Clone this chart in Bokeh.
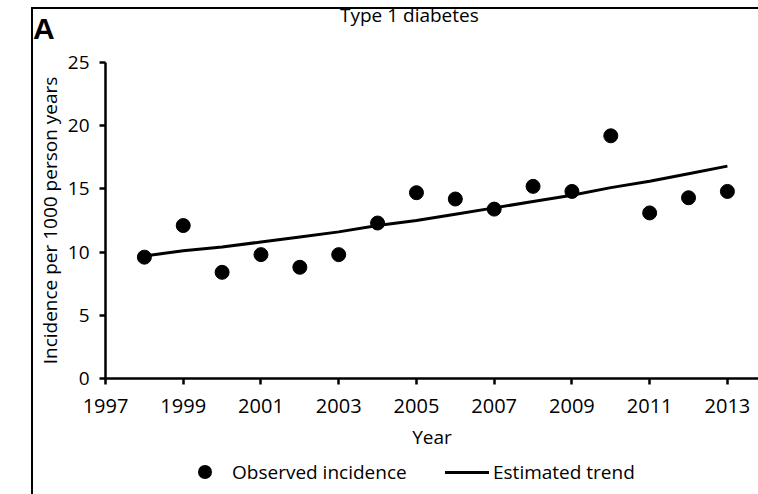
from bokeh.plotting import figure
from bokeh.models import Range1d, FixedTicker, Div
from bokeh.layouts import row, column
from bokeh.embed import file_html
from bokeh.resources import INLINE

years = [1998, 1999, 2000, 2001, 2002, 2003, 2004, 2005, 2006, 2007, 2008, 2009, 2010, 2011, 2012, 2013]
observed = [9.6, 12.1, 8.4, 9.8, 8.8, 9.8, 12.3, 14.7, 14.2, 13.4, 15.2, 14.8, 19.2, 13.1, 14.3, 14.8]
trend = [9.7, 10.1, 10.4, 10.8, 11.2, 11.6, 12.1, 12.5, 13.0, 13.5, 14.0, 14.5, 15.1, 15.6, 16.2, 16.8]
x_ticks = [1997, 1999, 2001, 2003, 2005, 2007, 2009, 2011, 2013]
y_ticks = [0, 5, 10, 15, 20, 25]
panel_letter = "A"
chart_title = "Type 1 diabetes"
legend_labels = ["Observed incidence", "Estimated trend"]

FONT = "Open Sans"

# left frame line of the figure panel
left_html = ('<div style="position:relative;width:33px;height:494px;">'
             '<div style="position:absolute;left:31px;top:7px;width:2px;height:487px;'
             'background:#000;"></div></div>')
left_div = Div(text=left_html, width=33, height=494, margin=0)

# header: top frame line, panel letter and title
header_html = (
    '<div style="position:relative;width:725px;height:48px;">'
    '<div style="position:absolute;left:0;top:7px;width:725px;height:2px;background:#000;"></div>'
    '<span style="position:absolute;left:0px;top:14px;font-family:\'Liberation Sans\';'
    'font-weight:bold;font-size:30px;line-height:30px;color:#000;white-space:nowrap;">'
    + panel_letter + '</span>'
    '<span style="position:absolute;left:307px;top:6px;font-family:\'Open Sans\';'
    'font-size:19px;line-height:19px;color:#000;white-space:nowrap;">'
    + chart_title + '</span></div>'
)
header = Div(text=header_html, width=725, height=48, margin=0)

p = figure(width=725, height=412, output_backend="svg", toolbar_location=None,
           x_range=Range1d(1997, 2013.8), y_range=Range1d(0, 25),
           min_border_left=72, min_border_right=0, min_border_top=14, min_border_bottom=82)
p.outline_line_color = None
p.xgrid.visible = False
p.ygrid.visible = False

for ax in (p.xaxis[0], p.yaxis[0]):
    ax.axis_line_width = 2.5
    ax.axis_line_color = "black"
    ax.major_tick_line_width = 2.5
    ax.major_tick_line_color = "black"
    ax.major_tick_in = 0
    ax.major_tick_out = 6
    ax.minor_tick_line_color = None
    ax.major_label_text_font = FONT
    ax.major_label_text_color = "black"
    ax.axis_label_text_font = FONT
    ax.axis_label_text_font_size = "19px"
    ax.axis_label_text_font_style = "normal"
    ax.axis_label_text_color = "black"

p.xaxis.major_label_text_font_size = "20px"
p.yaxis.major_label_text_font_size = "19px"
p.xaxis.ticker = FixedTicker(ticks=x_ticks)
p.yaxis.ticker = FixedTicker(ticks=y_ticks)
p.xaxis.axis_label = "Year"
p.yaxis.axis_label = "Incidence per 1000 person years"
p.xaxis.major_label_standoff = 14
p.yaxis.major_label_standoff = 10
p.xaxis.axis_label_standoff = 8
p.yaxis.axis_label_standoff = 2

p.scatter(years, observed, size=14, color="black")
p.line(years, trend, line_width=3, color="black")

# legend row below the chart
footer_html = (
    '<div style="position:relative;width:725px;height:34px;">'
    '<div style="position:absolute;left:165px;top:5px;width:14px;height:14px;'
    'border-radius:50%;background:#000;"></div>'
    '<span style="position:absolute;left:199px;top:3px;font-family:\'Open Sans\';'
    'font-size:19px;line-height:19px;color:#000;white-space:nowrap;">'
    + legend_labels[0] + '</span>'
    '<div style="position:absolute;left:412px;top:10.5px;width:44px;height:3px;background:#000;"></div>'
    '<span style="position:absolute;left:460px;top:3px;font-family:\'Open Sans\';'
    'font-size:19px;line-height:19px;color:#000;white-space:nowrap;">'
    + legend_labels[1] + '</span></div>'
)
footer = Div(text=footer_html, width=725, height=34, margin=0)

layout = row(left_div, column(header, p, footer, spacing=0), spacing=0)
open("out.html", "w").write(file_html(layout, INLINE))
